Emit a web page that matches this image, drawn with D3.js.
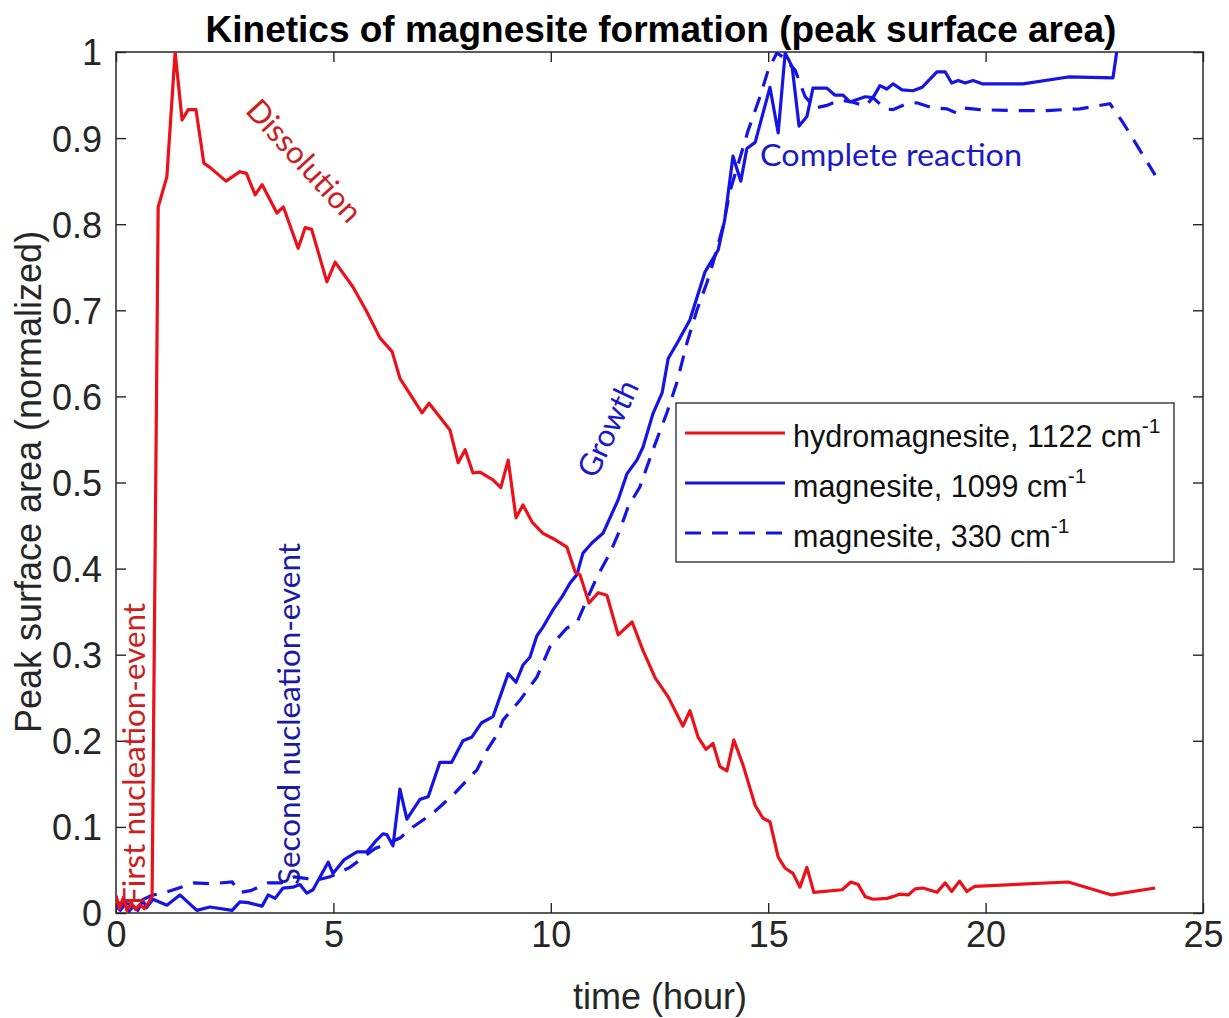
<!DOCTYPE html>
<html>
<head>
<meta charset="utf-8">
<script src="https://cdn.jsdelivr.net/npm/d3@7"></script>
<style>
  html, body { margin: 0; padding: 0; background: #fff; }
  svg { display: block; }
</style>
</head>
<body>
<svg id="chart" width="1229" height="1018"></svg>
<script>
// ---------------- data ----------------
const hydroTime = [0,0.08,0.17,0.25,0.35,0.45,0.55,0.65,0.75,0.83,0.97,1.17,1.36,1.52,1.66,1.84,2.02,2.16,2.53,2.85,3.0,3.2,3.36,3.7,3.85,4.19,4.35,4.5,4.85,5.04,5.45,5.75,6.07,6.35,6.53,7.04,7.2,7.68,7.87,8.03,8.21,8.37,8.67,8.85,9.02,9.2,9.36,9.57,9.82,10.05,10.37,10.56,10.67,10.88,11.09,11.29,11.55,11.87,12.12,12.4,12.7,13.04,13.2,13.39,13.57,13.73,13.89,14.05,14.21,14.42,14.7,14.88,15.04,15.23,15.39,15.57,15.73,15.89,16.05,16.7,16.9,17.07,17.23,17.41,17.73,17.87,18.03,18.22,18.38,18.56,18.88,19.07,19.22,19.4,19.57,19.75,21.9,22.9,23.9];
const hydroValue = [0.02,0.005,0.018,0.003,0.012,0.004,0.01,0.005,0.012,0.02,0.82,0.855,1.0,0.921,0.933,0.933,0.871,0.866,0.85,0.861,0.859,0.834,0.846,0.813,0.82,0.772,0.796,0.794,0.733,0.756,0.727,0.70,0.668,0.652,0.621,0.581,0.592,0.561,0.523,0.538,0.511,0.512,0.503,0.494,0.526,0.459,0.474,0.454,0.441,0.435,0.425,0.396,0.393,0.36,0.372,0.369,0.323,0.338,0.305,0.273,0.251,0.217,0.235,0.204,0.19,0.197,0.17,0.165,0.201,0.172,0.125,0.11,0.106,0.065,0.052,0.046,0.03,0.053,0.024,0.027,0.036,0.033,0.019,0.016,0.017,0.019,0.022,0.021,0.028,0.029,0.024,0.035,0.025,0.037,0.025,0.031,0.036,0.021,0.029];

const mag1099Time = [0,0.1,0.2,0.3,0.4,0.5,0.62,0.7,0.85,1.17,1.47,1.86,2.16,2.67,2.85,3.04,3.36,3.5,3.66,3.84,4.07,4.23,4.39,4.53,4.88,4.99,5.25,5.54,5.77,6.0,6.14,6.23,6.37,6.53,6.69,6.99,7.18,7.45,7.72,7.98,8.18,8.41,8.67,9.02,9.2,9.36,9.52,9.68,9.82,10.05,10.28,10.44,10.6,10.74,10.95,11.2,11.55,11.75,11.98,12.12,12.35,12.56,12.7,12.93,13.2,13.55,13.85,14.0,14.19,14.37,14.51,14.7,15.04,15.23,15.39,15.55,15.71,15.89,16.03,16.35,16.53,16.72,16.88,17.23,17.41,17.57,17.73,17.87,18.08,18.33,18.54,18.88,19.07,19.22,19.37,19.53,19.71,19.92,20.86,21.9,22.93,23.1];
const mag1099Value = [0.008,0.003,0.01,0.002,0.008,0.003,0.015,0.006,0.016,0.009,0.021,0.003,0.007,0.003,0.013,0.012,0.008,0.021,0.017,0.029,0.03,0.033,0.023,0.027,0.059,0.046,0.062,0.071,0.071,0.085,0.092,0.091,0.078,0.144,0.109,0.132,0.135,0.175,0.175,0.2,0.204,0.221,0.228,0.278,0.268,0.288,0.297,0.322,0.332,0.352,0.369,0.383,0.393,0.418,0.43,0.441,0.48,0.51,0.526,0.541,0.58,0.604,0.644,0.664,0.689,0.745,0.77,0.805,0.879,0.85,0.888,0.895,0.959,0.906,0.999,0.983,0.914,0.925,0.958,0.958,0.95,0.95,0.942,0.948,0.947,0.961,0.957,0.963,0.956,0.955,0.959,0.977,0.977,0.964,0.967,0.964,0.967,0.963,0.963,0.971,0.97,1.03];

const mag330Time = [0,0.4,0.8,1.2,1.5,1.8,2.2,2.67,2.85,3.1,3.5,3.8,4.1,4.4,4.6,4.92,5.38,5.96,6.3,6.53,6.83,7.29,7.75,8.18,8.3,8.53,8.79,8.9,9.29,9.68,9.98,10.37,10.6,10.83,11.06,11.36,11.59,11.78,12.05,12.35,12.67,12.9,13.13,13.36,13.59,13.73,13.96,14.12,14.54,14.81,15.0,15.2,15.34,15.62,15.85,16.08,16.35,16.65,16.93,17.23,17.41,17.69,17.87,18.19,18.42,18.79,19.11,19.34,19.48,19.87,20.63,21.41,22.17,22.86,23.16,23.9];
const mag330Value = [0.012,0.01,0.02,0.025,0.03,0.035,0.034,0.036,0.024,0.026,0.035,0.035,0.042,0.04,0.038,0.042,0.053,0.075,0.082,0.087,0.1,0.116,0.137,0.16,0.166,0.189,0.209,0.224,0.247,0.274,0.309,0.331,0.337,0.364,0.39,0.418,0.445,0.472,0.495,0.538,0.581,0.616,0.662,0.7,0.732,0.755,0.797,0.838,0.909,0.948,0.979,0.999,0.994,0.979,0.948,0.935,0.938,0.944,0.942,0.937,0.947,0.934,0.933,0.94,0.941,0.935,0.934,0.929,0.935,0.933,0.932,0.932,0.934,0.94,0.918,0.857];

const xTicks = [0,5,10,15,20,25];
const yTicks = [0,0.1,0.2,0.3,0.4,0.5,0.6,0.7,0.8,0.9,1];
const yTickLabels = ["0","0.1","0.2","0.3","0.4","0.5","0.6","0.7","0.8","0.9","1"];

const seriesNames = ["hydromagnesite, 1122 cm", "magnesite, 1099 cm", "magnesite, 330 cm"];
const seriesSup = ["-1", "-1", "-1"];
const titleText = "Kinetics of magnesite formation (peak surface area)";
const xLabel = "time (hour)";
const yLabel = "Peak surface area (normalized)";

// ---------------- layout ----------------
const svg = d3.select("#chart");
const L = 116, R = 1203, T = 52, B = 913;
const x = d3.scaleLinear().domain([0, 25]).range([L, R]);
const y = d3.scaleLinear().domain([0, 1]).range([B, T]);

const RED = "#ec1118", BLUE = "#1414e6", AX = "#262626";
const ARIAL = "'Liberation Sans', Arial, sans-serif";
const ANNO = "Lato, 'Open Sans', sans-serif";

svg.append("rect").attr("width", 1229).attr("height", 1018).attr("fill", "#fff");

svg.append("defs").append("clipPath").attr("id", "clip")
  .append("rect").attr("x", L).attr("y", T).attr("width", R - L).attr("height", B - T);

// axes
const tickLen = 10;
const gx = svg.append("g").attr("transform", `translate(0,${B})`)
  .call(d3.axisBottom(x).tickValues(xTicks).tickFormat(d3.format("d")).tickSizeInner(-tickLen).tickSizeOuter(0).tickPadding(8));
const gxt = svg.append("g").attr("transform", `translate(0,${T})`)
  .call(d3.axisTop(x).tickValues(xTicks).tickFormat("").tickSizeInner(-tickLen).tickSizeOuter(0));
const gy = svg.append("g").attr("transform", `translate(${L},0)`)
  .call(d3.axisLeft(y).tickValues(yTicks).tickFormat((d, i) => yTickLabels[i]).tickSizeInner(-tickLen).tickSizeOuter(0).tickPadding(14));
const gyr = svg.append("g").attr("transform", `translate(${R},0)`)
  .call(d3.axisRight(y).tickValues(yTicks).tickFormat("").tickSizeInner(-tickLen).tickSizeOuter(0));

[gx, gxt, gy, gyr].forEach(g => {
  g.select(".domain").remove();
  g.selectAll(".tick line").attr("stroke", AX).attr("stroke-width", 1.4);
  g.selectAll(".tick text").attr("fill", AX).attr("font-family", ARIAL).attr("font-size", 36);
});
gy.selectAll(".tick text").attr("dy", "0.36em");

// box
svg.append("rect").attr("x", L).attr("y", T).attr("width", R - L).attr("height", B - T)
  .attr("fill", "none").attr("stroke", AX).attr("stroke-width", 1.5);

// lines
const plot = svg.append("g").attr("clip-path", "url(#clip)");
const mk = (ts, vs) => ts.map((t, i) => [t, vs[i]]);
const line = d3.line().x(d => x(d[0])).y(d => y(d[1]));

plot.append("path").datum(mk(mag330Time, mag330Value)).attr("d", line)
  .attr("fill", "none").attr("stroke", BLUE).attr("stroke-width", 3.2).attr("stroke-dasharray", "16,11");
plot.append("path").datum(mk(mag1099Time, mag1099Value)).attr("d", line)
  .attr("fill", "none").attr("stroke", BLUE).attr("stroke-width", 3.2).attr("stroke-linejoin", "round");
plot.append("path").datum(mk(hydroTime, hydroValue)).attr("d", line)
  .attr("fill", "none").attr("stroke", RED).attr("stroke-width", 3.2).attr("stroke-linejoin", "round");

// annotations
const ann = svg.append("g").attr("font-family", ANNO);
ann.append("text").text("Dissolution")
  .attr("transform", "translate(305,160) rotate(47.5)")
  .attr("text-anchor", "middle").attr("dominant-baseline", "central")
  .attr("font-size", 31).attr("fill", "#cc1e22");
ann.append("text").text("First nucleation-event")
  .attr("transform", "translate(145,905) rotate(-90)")
  .attr("font-size", 30).attr("fill", "#cc1e22")
  .attr("textLength", 302).attr("lengthAdjust", "spacingAndGlyphs");
ann.append("text").text("Second nucleation-event")
  .attr("transform", "translate(300,885) rotate(-90)")
  .attr("font-size", 30).attr("fill", "#1a1aa6")
  .attr("textLength", 342).attr("lengthAdjust", "spacingAndGlyphs");
ann.append("text").text("Growth")
  .attr("transform", "translate(607,428) rotate(-65)")
  .attr("text-anchor", "middle").attr("dominant-baseline", "central")
  .attr("font-size", 31).attr("fill", "#1a1ac8");
ann.append("text").text("Complete reaction")
  .attr("x", 760).attr("y", 166)
  .attr("font-size", 30).attr("fill", "#1a1ac8")
  .attr("textLength", 262).attr("lengthAdjust", "spacingAndGlyphs");

// legend
const lg = svg.append("g");
lg.append("rect").attr("x", 676).attr("y", 403).attr("width", 498).attr("height", 159)
  .attr("fill", "#fff").attr("stroke", AX).attr("stroke-width", 1.3);
const legStyles = [
  {color: RED, dash: null},
  {color: BLUE, dash: null},
  {color: BLUE, dash: "16,11"}
];
seriesNames.forEach((name, i) => {
  const yy = 433 + i * 50;
  lg.append("line").attr("x1", 685).attr("x2", 785).attr("y1", yy).attr("y2", yy)
    .attr("stroke", legStyles[i].color).attr("stroke-width", 3.2)
    .attr("stroke-dasharray", legStyles[i].dash);
  const t = lg.append("text").attr("x", 793).attr("y", yy + 14)
    .attr("font-family", ARIAL).attr("font-size", 30.5).attr("fill", "#111");
  t.append("tspan").text(name);
  t.append("tspan").attr("dy", -14).attr("font-size", 21).text(seriesSup[i]);
});

// titles
svg.append("text").text(titleText)
  .attr("x", 661).attr("y", 42).attr("text-anchor", "middle")
  .attr("font-family", ARIAL).attr("font-weight", "bold").attr("font-size", 37).attr("fill", "#000");
svg.append("text").text(xLabel)
  .attr("x", 660).attr("y", 1009).attr("text-anchor", "middle")
  .attr("font-family", ARIAL).attr("font-size", 36).attr("fill", AX);
svg.append("text").text(yLabel)
  .attr("transform", "translate(41,482) rotate(-90)").attr("text-anchor", "middle")
  .attr("font-family", ARIAL).attr("font-size", 36).attr("fill", AX);
</script>
</body>
</html>
